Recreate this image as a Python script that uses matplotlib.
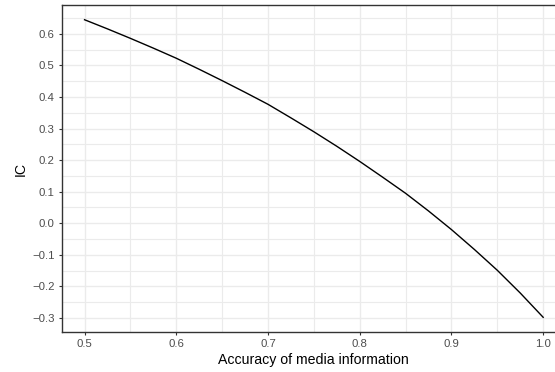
import numpy as np
import matplotlib
matplotlib.use("Agg")
import matplotlib.pyplot as plt
from matplotlib.ticker import MultipleLocator

# values
accuracy = [0.500, 0.525, 0.550, 0.575, 0.600, 0.625, 0.650, 0.675, 0.700, 0.725, 0.750,
            0.775, 0.800, 0.825, 0.850, 0.875, 0.900, 0.925, 0.950, 0.975, 1.000]
ic = [0.645, 0.616, 0.586, 0.555, 0.523, 0.488, 0.452, 0.415, 0.377, 0.334, 0.290,
      0.244, 0.196, 0.146, 0.095, 0.039, -0.020, -0.083, -0.149, -0.221, -0.298]

x_ticks = [0.5, 0.6, 0.7, 0.8, 0.9, 1.0]
y_ticks = [-0.3, -0.2, -0.1, 0.0, 0.1, 0.2, 0.3, 0.4, 0.5, 0.6]

plt.rcParams['font.family'] = ['Liberation Sans', 'DejaVu Sans']

fig = plt.figure(figsize=(5.55, 3.72), dpi=100)
# panel runs a little past the right edge (cropped in the reference)
ax = fig.add_axes([0.111, 0.107, 0.909, 0.880])

ax.plot(accuracy, ic, color='black', lw=1.0, zorder=3)

ax.set_xlim(0.475, 1.025)
ax.set_ylim(-0.3452, 0.6922)
ax.set_xticks(x_ticks)
ax.set_yticks(y_ticks)
ax.set_xticklabels([f"{v:.1f}" for v in x_ticks])
ax.set_yticklabels([f"{v:.1f}".replace('-', '\u2212') for v in y_ticks])
ax.xaxis.set_minor_locator(MultipleLocator(0.05))
ax.yaxis.set_minor_locator(MultipleLocator(0.05))

ax.grid(which='major', color='#EBEBEB', lw=1.0, zorder=0)
ax.grid(which='minor', color='#EBEBEB', lw=0.8, zorder=0)
ax.set_axisbelow(True)

for s in ax.spines.values():
    s.set_color('#333333')
    s.set_linewidth(1.0)

ax.tick_params(which='major', length=2.5, width=0.8, color='#333333',
               labelcolor='#4D4D4D', labelsize=8.2, pad=2.5)
ax.tick_params(which='minor', length=0)

ax.set_xlabel("Accuracy of media information", fontsize=10.2, labelpad=3)
ax.set_ylabel("IC", fontsize=10.2, labelpad=3)

fig.savefig("out.png", dpi=100)
